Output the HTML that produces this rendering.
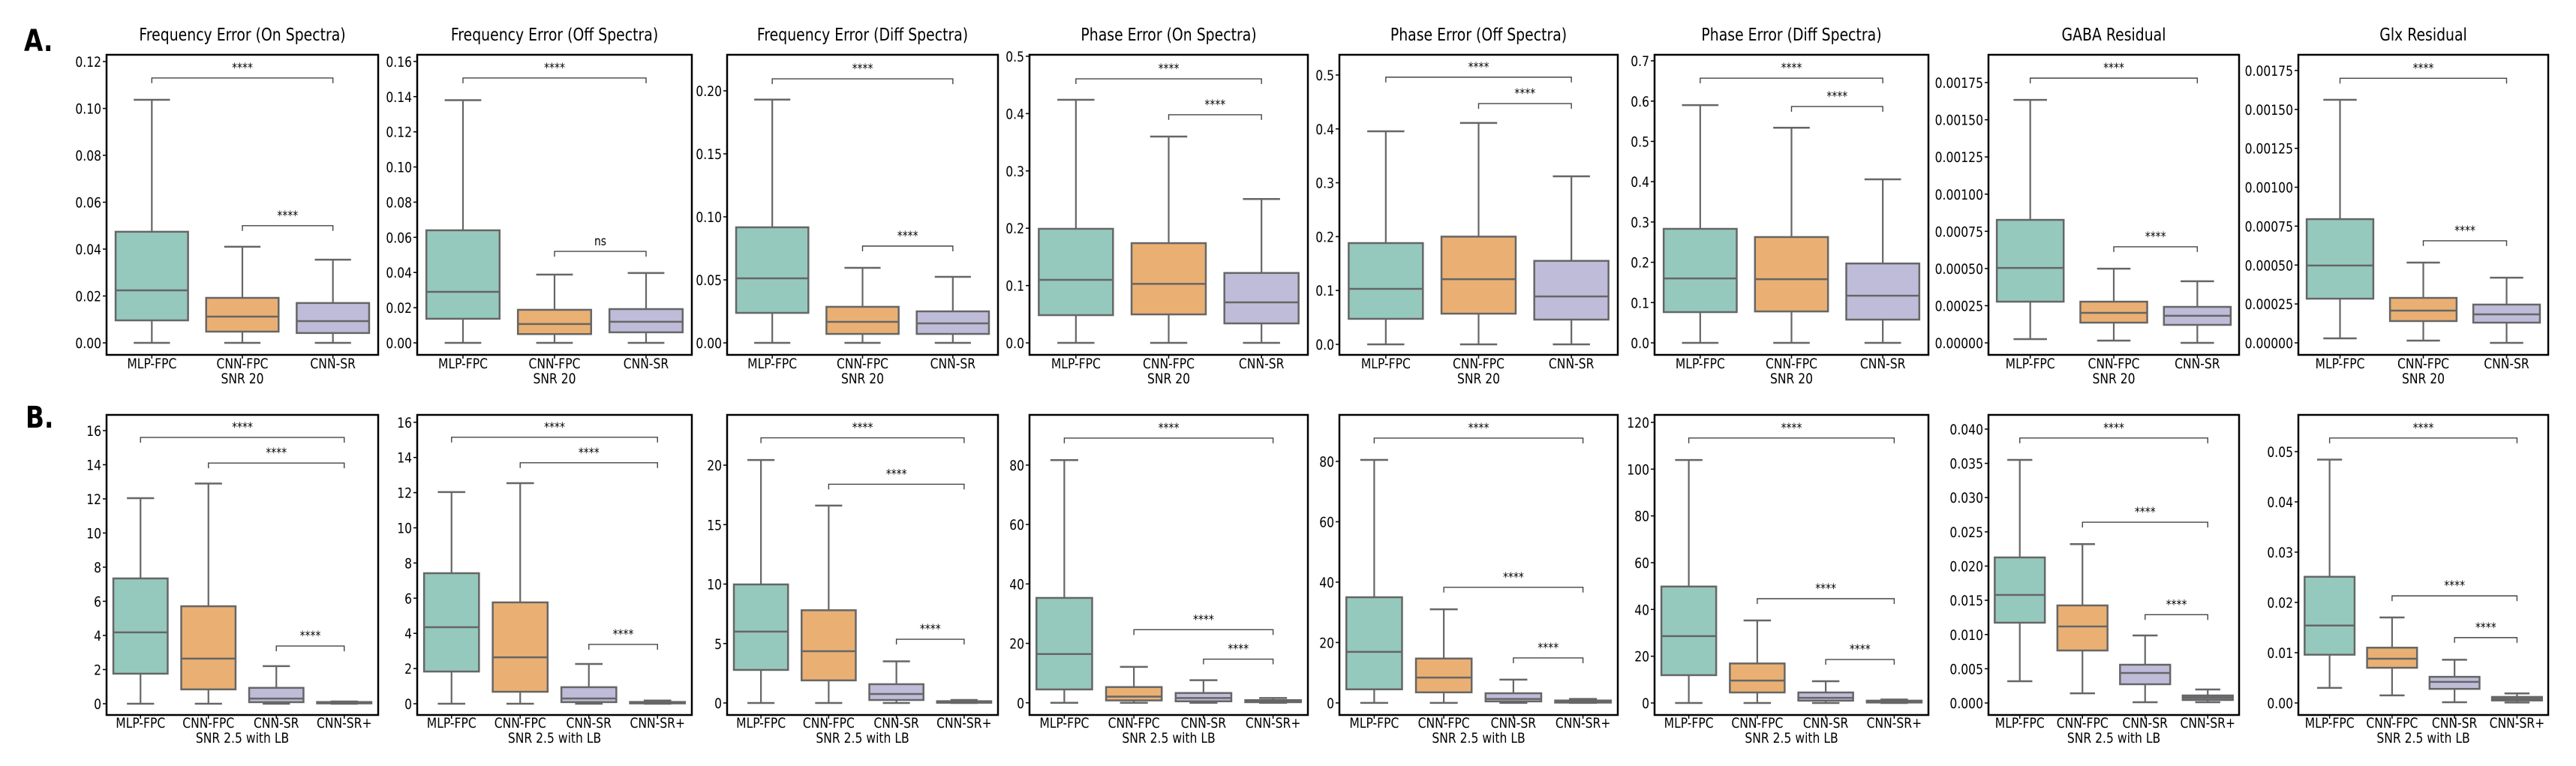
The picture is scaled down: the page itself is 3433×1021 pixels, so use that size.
<!DOCTYPE html>
<html><head><meta charset="utf-8"><style>
html,body{margin:0;padding:0;background:#fff;}
svg{display:block;}
text{font-family:"DejaVu Sans","Liberation Sans",sans-serif;fill:#000;}
</style></head><body>
<svg id="fig" width="3433" height="1021" viewBox="0 0 3433 1021" xmlns="http://www.w3.org/2000/svg"></svg>
<script>
// ---- data ----
const catsA = ["MLP-FPC","CNN-FPC","CNN-SR"];
const catsB = ["MLP-FPC","CNN-FPC","CNN-SR","CNN-SR+"];
const titlesA = ["Frequency Error (On Spectra)","Frequency Error (Off Spectra)","Frequency Error (Diff Spectra)","Phase Error (On Spectra)","Phase Error (Off Spectra)","Phase Error (Diff Spectra)","GABA Residual","Glx Residual"];
// stats per box: [min, q1, median, q3, max]
const a1 = [[0,0.0096,0.0224,0.0474,0.1037],[0,0.0048,0.0112,0.0192,0.041],[0,0.0042,0.0093,0.017,0.0355]];
const a2 = [[0,0.0137,0.029,0.064,0.138],[0,0.005,0.0107,0.0188,0.0388],[0,0.006,0.012,0.0192,0.0397]];
const a3 = [[0,0.0238,0.0512,0.0917,0.193],[0,0.0071,0.0167,0.0286,0.0595],[0,0.0071,0.0155,0.025,0.0524]];
const a4 = [[0,0.0484,0.11,0.199,0.424],[0,0.0497,0.103,0.174,0.36],[0,0.034,0.0707,0.122,0.251]];
const a5 = [[0,0.0474,0.103,0.188,0.3955],[0,0.057,0.121,0.2,0.411],[0,0.046,0.089,0.155,0.312]];
const a6 = [[0,0.0763,0.16,0.283,0.59],[0,0.078,0.158,0.2626,0.534],[0,0.0577,0.117,0.197,0.406]];
const a7 = [[0.0000252,0.000277,0.000504,0.000827,0.001634],[0.0000151,0.000136,0.000202,0.000277,0.000499],[0,0.000121,0.000182,0.000242,0.000414]];
const a8 = [[0.0000289,0.000284,0.000497,0.000795,0.001562],[0.0000145,0.00014,0.000207,0.000289,0.000516],[0,0.00013,0.000183,0.000246,0.000419]];
const b1 = [[0,1.76,4.18,7.34,12.04],[0,0.84,2.64,5.71,12.9],[0,0.09,0.3,0.93,2.2],[0,0.02,0.05,0.1,0.13]];
const b2 = [[0,1.83,4.35,7.42,12.03],[0,0.68,2.64,5.76,12.54],[0,0.09,0.3,0.94,2.26],[0,0.02,0.05,0.1,0.18]];
const b3 = [[0,2.78,6.0,9.97,20.44],[0,1.9,4.35,7.8,16.6],[0,0.25,0.76,1.58,3.5],[0,0.02,0.07,0.15,0.25]];
const b4 = [[0,4.5,16.4,35.3,81.7],[0,0.8,2.1,5.3,12.1],[0,0.5,1.6,3.3,7.6],[0,0.2,0.5,0.9,1.6]];
const b5 = [[0,4.5,16.9,35,80.5],[0,3.5,8.4,14.7,31],[0,0.5,1.3,3.2,7.7],[0,0.1,0.4,0.8,1.3]];
const b6 = [[0,11.9,28.6,49.8,103.9],[0,4.5,9.6,16.9,35.3],[0,1.0,2.2,4.5,9.3],[0,0.2,0.6,1.0,1.5]];
const b7 = [[0.00318,0.01173,0.01578,0.02126,0.0355],[0.00142,0.00767,0.01118,0.01425,0.0232],[0.00011,0.00274,0.00438,0.00559,0.00986],[0.00011,0.00044,0.0008,0.0011,0.00197]];
const b8 = [[0.003,0.0096,0.0154,0.0251,0.0484],[0.0015,0.007,0.0088,0.011,0.017],[0.00015,0.0028,0.0042,0.0052,0.0086],[0.0001,0.0005,0.0008,0.0012,0.0019]];
// significance brackets: [fromIdx, toIdx, yValue, label]
const sigA = [
 [[0,2,0.113,"****"],[1,2,0.050,"****"]],
 [[0,2,0.1506,"****"],[1,2,0.052,"ns"]],
 [[0,2,0.2095,"****"],[1,2,0.0768,"****"]],
 [[0,2,0.4607,"****"],[1,2,0.398,"****"]],
 [[0,2,0.496,"****"],[1,2,0.447,"****"]],
 [[0,2,0.657,"****"],[1,2,0.5866,"****"]],
 [[0,2,0.00178,"****"],[1,2,0.000646,"****"]],
 [[0,2,0.0017,"****"],[1,2,0.000656,"****"]]
];
const sigB = [
 [[0,3,15.6,"****"],[1,3,14.1,"****"],[2,3,3.38,"****"]],
 [[0,3,15.15,"****"],[1,3,13.7,"****"],[2,3,3.37,"****"]],
 [[0,3,22.3,"****"],[1,3,18.4,"****"],[2,3,5.36,"****"]],
 [[0,3,89.1,"****"],[1,3,24.6,"****"],[2,3,14.7,"****"]],
 [[0,3,87.7,"****"],[1,3,38.3,"****"],[2,3,14.9,"****"]],
 [[0,3,113.3,"****"],[1,3,44.6,"****"],[2,3,18.6,"****"]],
 [[0,3,0.0387,"****"],[1,3,0.0264,"****"],[2,3,0.0129,"****"]],
 [[0,3,0.0527,"****"],[1,3,0.0213,"****"],[2,3,0.013,"****"]]
];
const ylimA = [[-0.00512,0.1229],[-0.00683,0.1638],[-0.00952,0.2286],[-0.0209,0.5026],[-0.0195,0.5376],[-0.0298,0.715],[-0.0000807,0.001937],[-0.0000771,0.001851]];
const ylimB = [[-0.66,16.92],[-0.64,16.42],[-1.01,24.23],[-4.1,96.9],[-4.0,95.4],[-5.13,123.2],[-0.00175,0.04208],[-0.00239,0.0573]];
const ticksA = [[0,0.02,0.04,0.06,0.08,0.10,0.12],[0,0.02,0.04,0.06,0.08,0.10,0.12,0.14,0.16],[0,0.05,0.10,0.15,0.20],[0,0.1,0.2,0.3,0.4,0.5],[0,0.1,0.2,0.3,0.4,0.5],[0,0.1,0.2,0.3,0.4,0.5,0.6,0.7],[0,0.00025,0.0005,0.00075,0.001,0.00125,0.0015,0.00175],[0,0.00025,0.0005,0.00075,0.001,0.00125,0.0015,0.00175]];
const ticksB = [[0,2,4,6,8,10,12,14,16],[0,2,4,6,8,10,12,14,16],[0,5,10,15,20],[0,20,40,60,80],[0,20,40,60,80],[0,20,40,60,80,100,120],[0,0.005,0.01,0.015,0.02,0.025,0.03,0.035,0.04],[0,0.01,0.02,0.03,0.04,0.05]];
const decA = [2,2,2,1,1,1,5,5];
const decB = [0,0,0,0,0,0,3,2];
const statsA = [a1,a2,a3,a4,a5,a6,a7,a8];
const statsB = [b1,b2,b3,b4,b5,b6,b7,b8];

// ---- layout ----
const panelX = [[142,504],[556,922],[969,1330],[1372,1743],[1785,2156],[2205,2570],[2650,2984],[3063,3396]];
const colors = ["#96c9be","#eab073","#bfbcd9","#bfbcd9"];
const colorsB = ["#96c9be","#eab073","#bfbcd9","#7d7d93"];
const NS = "http://www.w3.org/2000/svg";
const svg = document.getElementById("fig");
const SX = 0.82;

function el(tag, attrs, parent){
  const e = document.createElementNS(NS, tag);
  for (const k in attrs) e.setAttribute(k, attrs[k]);
  (parent||svg).appendChild(e);
  return e;
}
function txt(parent, x, y, s, size, anchor, weight){
  const t = el("text", {transform:`translate(${x},${y}) scale(${SX},1)`, "font-size":size, "text-anchor":anchor||"middle", "font-weight":weight||"normal"}, parent);
  t.textContent = s;
  return t;
}

function panel(row, i, top, bottom, cats, stats, ylim, ticks, dec, sigs, title, xlab2, fills){
  const [x0,x1] = panelX[i];
  const g = el("g", {});
  
  
  const n = cats.length;
  const cw = (x1-x0)/n;
  const xs = k => x0 + cw*(k+0.5);
  const ys = v => bottom - (v-ylim[0])/(ylim[1]-ylim[0])*(bottom-top);
  if (title){
    const t = txt(g, (x0+x1)/2, 54, title, 23);
    
    
  }
  // y ticks
  ticks.forEach(v=>{
    const y = ys(v);
    el("line", {x1:x0-5, x2:x0, y1:y, y2:y, stroke:"#000", "stroke-width":1.5}, g);
    const t = txt(g, x0-7, y+7, v.toFixed(dec), 19, "end");
    
    
  });
  // boxes
  const bw = cw*0.8;
  stats.forEach((s,k)=>{
    const cx = xs(k);
    const [mn,q1,md,q3,mx] = s;
    const bg = el("g", {}, g);
    
    
    el("line", {x1:cx, x2:cx, y1:ys(mx), y2:ys(q3), stroke:"#666", "stroke-width":2.2}, bg);
    el("line", {x1:cx, x2:cx, y1:ys(q1), y2:ys(mn), stroke:"#666", "stroke-width":2.2}, bg);
    el("line", {x1:cx-bw/4, x2:cx+bw/4, y1:ys(mx), y2:ys(mx), stroke:"#666", "stroke-width":2.5}, bg);
    el("line", {x1:cx-bw/4, x2:cx+bw/4, y1:ys(mn), y2:ys(mn), stroke:"#666", "stroke-width":2.5}, bg);
    el("rect", {x:cx-bw/2, y:ys(q3), width:bw, height:Math.max(1,ys(q1)-ys(q3)), fill:fills[k], stroke:"#666", "stroke-width":2.5}, bg);
    el("line", {x1:cx-bw/2, x2:cx+bw/2, y1:ys(md), y2:ys(md), stroke:"#666", "stroke-width":2.5}, bg);
  });
  // brackets
  sigs.forEach(b=>{
    const [a,c,v,lab] = b;
    const y = ys(v);
    const xa = xs(a), xc = xs(c);
    const bg = el("g", {}, g);
    
    
    el("polyline", {points:`${xa},${y+7} ${xa},${y} ${xc},${y} ${xc},${y+7}`, fill:"none", stroke:"#444", "stroke-width":1.4}, bg);
    txt(bg, (xa+xc)/2, y-8, lab, 17);
  });
  // frame
  const fr = el("rect", {x:x0, y:top, width:x1-x0, height:bottom-top, fill:"none", stroke:"#000", "stroke-width":2.5}, g);
  
  
  // x labels
  cats.forEach((c,k)=>{
    el("line", {x1:xs(k), x2:xs(k), y1:bottom, y2:bottom+5, stroke:"#000", "stroke-width":1.5}, g);
    const t = txt(g, xs(k), bottom+(row==="A"?18:17), c, 19);
    
    
  });
  const t2 = txt(g, row==="A" ? xs(1) : (x0+x1)/2, bottom+(row==="A"?38:37), xlab2, 19);
  
  
}

for (let i=0;i<8;i++){
  panel("A", i, 73, 473, catsA, statsA[i], ylimA[i], ticksA[i], decA[i], sigA[i], titlesA[i], "SNR 20", colors);
  panel("B", i, 553, 953, catsB, statsB[i], ylimB[i], ticksB[i], decB[i], sigB[i], null, "SNR 2.5 with LB", colorsB);
}
const la = txt(svg, 32, 68, "A.", 40, "start", "bold");


const lb = txt(svg, 34, 570, "B.", 40, "start", "bold");


</script>
</body></html>
